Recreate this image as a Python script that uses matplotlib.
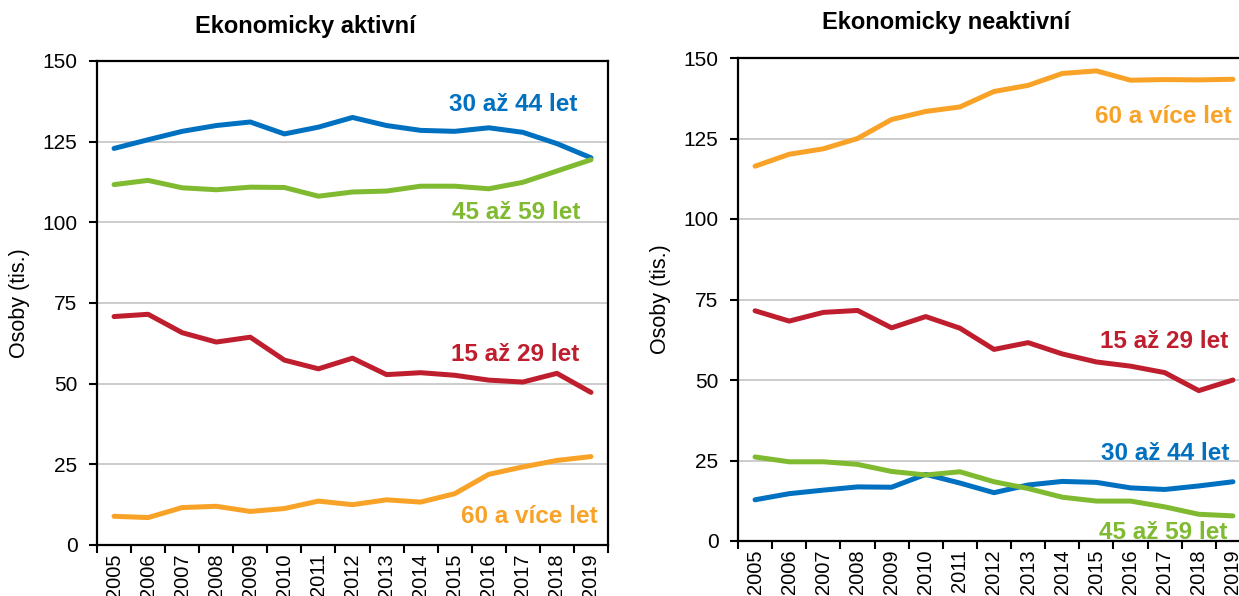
import matplotlib
matplotlib.use("Agg")
import matplotlib.pyplot as plt
from matplotlib.ticker import FixedLocator

plt.rcParams['font.family'] = ['Liberation Sans', 'DejaVu Sans']

years = [str(y) for y in range(2005, 2020)]

# Ekonomicky aktivní
act_15_29 = [70.8, 71.5, 65.8, 62.9, 64.4, 57.3, 54.6, 57.9, 52.8, 53.4, 52.6, 51.1, 50.5, 53.2, 47.3]
act_30_44 = [122.9, 125.6, 128.2, 130.0, 131.1, 127.4, 129.5, 132.5, 130.0, 128.5, 128.2, 129.3, 127.9, 124.4, 120.0]
act_45_59 = [111.7, 113.0, 110.7, 110.1, 110.9, 110.8, 108.1, 109.4, 109.7, 111.2, 111.2, 110.4, 112.4, 115.9, 119.4]
act_60 = [8.9, 8.5, 11.6, 12.0, 10.4, 11.3, 13.6, 12.5, 14.0, 13.3, 15.9, 21.9, 24.2, 26.2, 27.4]

# Ekonomicky neaktivní
ina_15_29 = [71.5, 68.3, 71.0, 71.6, 66.2, 69.7, 66.1, 59.5, 61.6, 58.1, 55.6, 54.3, 52.3, 46.7, 50.0]
ina_30_44 = [12.8, 14.7, 15.8, 16.8, 16.7, 20.7, 18.0, 15.0, 17.4, 18.5, 18.2, 16.5, 16.0, 17.1, 18.4]
ina_45_59 = [26.1, 24.6, 24.6, 23.8, 21.6, 20.5, 21.5, 18.4, 16.3, 13.6, 12.4, 12.4, 10.6, 8.3, 7.8]
ina_60 = [116.4, 120.1, 121.8, 125.0, 130.9, 133.4, 134.8, 139.6, 141.5, 145.2, 146.0, 143.1, 143.3, 143.2, 143.4]

labels = ["15 až 29 let", "30 až 44 let", "45 až 59 let", "60 a více let"]
colors = ["#BE1E2D", "#0070C0", "#7FBA31", "#F9A228"]

yticks = [0, 25, 50, 75, 100, 125, 150]

fig = plt.figure(figsize=(12.39, 5.96), dpi=100)
ax1 = fig.add_axes([97/1239, 51/596, 511/1239, 484/596])
ax2 = fig.add_axes([738/1239, 55/596, 512/1239, 483/596])

def style(ax, title, title_x, title_y):
    n = len(years)
    ax.set_xlim(-0.5, n - 0.5)
    ax.set_ylim(0, 150)
    ax.set_yticks(yticks)
    ax.set_xticks(range(n))
    ax.set_xticklabels(years, rotation=90, fontsize=14.5)
    ax.xaxis.set_minor_locator(FixedLocator([i - 0.5 for i in range(n + 1)]))
    ax.tick_params(axis='x', which='major', length=0, pad=6)
    ax.tick_params(axis='x', which='minor', length=6, width=1.5, direction='out')
    ax.tick_params(axis='y', which='major', length=6, width=1.5, direction='out', labelsize=15, pad=8)
    for y in [25, 50, 75, 100, 125]:
        ax.axhline(y, color='#C8C8C8', lw=1.3, zorder=0)
    for s in ax.spines.values():
        s.set_linewidth(1.6)
        s.set_color('black')
    ax.set_ylabel("Osoby (tis.)", fontsize=15.5, labelpad=9)
    fig.text(title_x, title_y, title, fontsize=17, fontweight='bold', ha='center', va='center')

for vals, c in zip([act_15_29, act_30_44, act_45_59, act_60], colors):
    ax1.plot(range(len(years)), vals, color=c, lw=3.6, solid_capstyle='round', solid_joinstyle='round')
for vals, c in zip([ina_15_29, ina_30_44, ina_45_59, ina_60], colors):
    ax2.plot(range(len(years)), vals, color=c, lw=3.6, solid_capstyle='round', solid_joinstyle='round')

style(ax1, "Ekonomicky aktivní", 305/1239, 1 - 27/596)
style(ax2, "Ekonomicky neaktivní", 946/1239, 1 - 23/596)

# series labels
fs = 17.5
ax1.text(13.59, 136.5, labels[1], color=colors[1], fontsize=fs, fontweight='bold', ha='right', va='center')
ax1.text(13.7, 102.9, labels[2], color=colors[2], fontsize=fs, fontweight='bold', ha='right', va='center')
ax1.text(13.65, 58.9, labels[0], color=colors[0], fontsize=fs, fontweight='bold', ha='right', va='center')
ax1.text(14.2, 8.7, labels[3], color=colors[3], fontsize=fs, fontweight='bold', ha='right', va='center')

ax2.text(13.97, 131.7, labels[3], color=colors[3], fontsize=fs, fontweight='bold', ha='right', va='center')
ax2.text(13.85, 62.1, labels[0], color=colors[0], fontsize=fs, fontweight='bold', ha='right', va='center')
ax2.text(13.9, 27.3, labels[1], color=colors[1], fontsize=fs, fontweight='bold', ha='right', va='center')
ax2.text(13.85, 2.5, labels[2], color=colors[2], fontsize=fs, fontweight='bold', ha='right', va='center', clip_on=False)

fig.savefig("out.png", dpi=100)
